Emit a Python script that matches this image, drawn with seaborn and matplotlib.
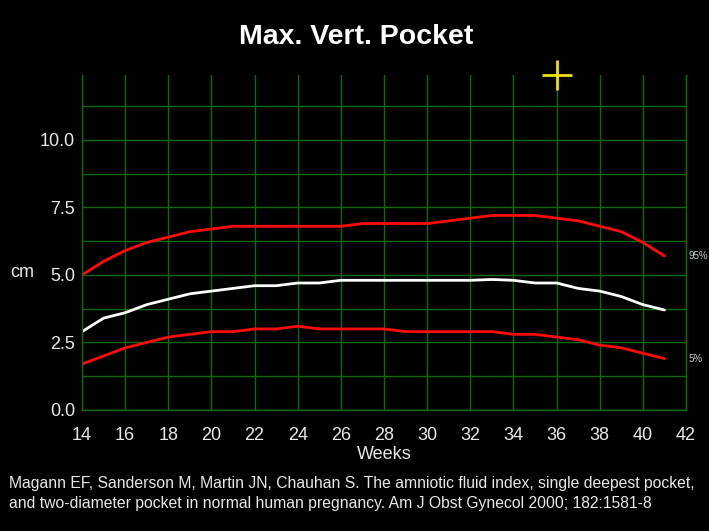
import numpy as np
import pandas as pd
import matplotlib
matplotlib.use("Agg")
import matplotlib.pyplot as plt
import seaborn as sns
from matplotlib.ticker import MultipleLocator

weeks = list(range(14, 42))
p95 = [5.0, 5.5, 5.9, 6.2, 6.4, 6.6, 6.7, 6.8, 6.8, 6.8, 6.8, 6.8, 6.8, 6.9,
       6.9, 6.9, 6.9, 7.0, 7.1, 7.2, 7.2, 7.2, 7.1, 7.0, 6.8, 6.6, 6.2, 5.7]
p50 = [2.9, 3.4, 3.6, 3.9, 4.1, 4.3, 4.4, 4.5, 4.6, 4.6, 4.7, 4.7, 4.8, 4.8,
       4.8, 4.8, 4.8, 4.8, 4.8, 4.83, 4.8, 4.7, 4.7, 4.5, 4.4, 4.2, 3.9, 3.7]
p5 = [1.7, 2.0, 2.3, 2.5, 2.7, 2.8, 2.9, 2.9, 3.0, 3.0, 3.1, 3.0, 3.0, 3.0,
      3.0, 2.9, 2.9, 2.9, 2.9, 2.9, 2.8, 2.8, 2.7, 2.6, 2.4, 2.3, 2.1, 1.9]
marker_week = 36
x_ticks = list(range(14, 43, 2))
y_ticks = [0.0, 2.5, 5.0, 7.5, 10.0]
citation_1 = "Magann EF, Sanderson M, Martin JN, Chauhan S. The amniotic fluid index, single deepest pocket,"
citation_2 = "and two-diameter pocket in normal human pregnancy. Am J Obst Gynecol 2000; 182:1581-8"

sns.set_style("dark")
plt.rcParams["font.family"] = ["Liberation Sans", "DejaVu Sans"]

df = pd.DataFrame({"week": weeks, "p95": p95, "p50": p50, "p5": p5})

fig = plt.figure(figsize=(7.09, 5.31), dpi=100, facecolor="black")
ax = fig.add_axes([0.1157, 0.2279, 0.8519, 0.6309])
ax.set_facecolor("black")

grid_c = "#0b6b0b"
sns.lineplot(data=df, x="week", y="p95", ax=ax, color="#ff0a0a", lw=2.0)
sns.lineplot(data=df, x="week", y="p50", ax=ax, color="white", lw=2.0)
sns.lineplot(data=df, x="week", y="p5", ax=ax, color="#ff0a0a", lw=2.0)

ax.set_xlim(14, 42)
ax.set_ylim(0, 12.4)
ax.set_xticks(x_ticks)
ax.set_yticks(y_ticks)
ax.set_yticklabels([f"{v:.1f}" for v in y_ticks])
ax.yaxis.set_minor_locator(MultipleLocator(1.25))
ax.grid(True, which="both", color=grid_c, lw=1.0)
ax.set_axisbelow(True)
ax.tick_params(axis="both", which="both", length=0, colors="#e8e8e8", labelsize=13)
ax.tick_params(axis="x", pad=12)
ax.tick_params(axis="y", pad=5)
for side in ["left", "bottom", "right"]:
    ax.spines[side].set_visible(True)
    ax.spines[side].set_color(grid_c)
    ax.spines[side].set_linewidth(1.0)
ax.spines["top"].set_visible(False)

ax.set_xlabel("Weeks", color="#e8e8e8", fontsize=13, labelpad=2)
ax.set_ylabel("")
fig.text(0.014, 0.487, "cm", color="#e8e8e8", fontsize=13, va="center", ha="left")

ax.text(42.1, p95[-1], "95%", color="#cccccc", fontsize=7, va="center", ha="left")
ax.text(42.1, p5[-1], "5%", color="#cccccc", fontsize=7, va="center", ha="left")

ax.plot([marker_week], [12.4], marker="+", color="#f0e010", ms=22, mew=2, clip_on=False)

fig.text(0.502, 0.930, "Max. Vert. Pocket", color="white", fontsize=20.5,
         fontweight="bold", ha="center", va="center")
fig.text(0.013, 0.090, citation_1, color="#e8e8e8", fontsize=11.35, ha="left", va="center")
fig.text(0.013, 0.051, citation_2, color="#e8e8e8", fontsize=11.35, ha="left", va="center")

fig.savefig("out.png", dpi=100, facecolor="black")
